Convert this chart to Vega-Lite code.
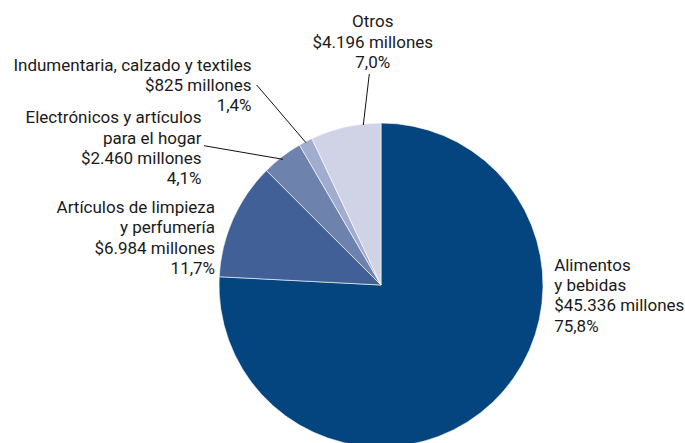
{
  "$schema": "https://vega.github.io/schema/vega-lite/v6.json",
  "width": 608,
  "height": 316,
  "autosize": {"type": "none"},
  "padding": {"left": 77, "top": 127, "right": 0, "bottom": 0},
  "background": "white",
  "view": {"stroke": null},
  "data": {
    "values": [
      {"categoria": "Alimentos y bebidas", "orden": 1, "millones": 45336, "porcentaje": 75.8, "label": "Alimentos\ny bebidas\n$45.336 millones\n75,8%"},
      {"categoria": "Artículos de limpieza y perfumería", "orden": 2, "millones": 6984, "porcentaje": 11.7, "label": "Artículos de limpieza\ny perfumería\n$6.984 millones\n11,7%"},
      {"categoria": "Electrónicos y artículos para el hogar", "orden": 3, "millones": 2460, "porcentaje": 4.1, "label": "Electrónicos y artículos\npara el hogar\n$2.460 millones\n4,1%"},
      {"categoria": "Indumentaria, calzado y textiles", "orden": 4, "millones": 825, "porcentaje": 1.4, "label": "Indumentaria, calzado y textiles\n$825 millones\n1,4%"},
      {"categoria": "Otros", "orden": 5, "millones": 4196, "porcentaje": 7.0, "label": "Otros\n$4.196 millones\n7,0%"}
    ]
  },
  "layer": [
    {
      "mark": {"type": "arc", "outerRadius": 162, "stroke": "white", "strokeWidth": 0.6},
      "encoding": {
        "theta": {"field": "millones", "type": "quantitative", "stack": true},
        "order": {"field": "orden", "type": "quantitative"},
        "color": {
          "field": "categoria",
          "type": "nominal",
          "scale": {
            "domain": ["Alimentos y bebidas", "Artículos de limpieza y perfumería", "Electrónicos y artículos para el hogar", "Indumentaria, calzado y textiles", "Otros"],
            "range": ["#044580", "#416098", "#6E82AE", "#A1ADCE", "#CFD3E5"]
          },
          "legend": null
        }
      }
    },
    {
      "mark": {
        "type": "text",
        "radius": 175,
        "lineBreak": "\n",
        "lineHeight": 20.3,
        "font": "Roboto",
        "fontSize": 17,
        "fill": "#1a1a1a",
        "baseline": "alphabetic",
        "align": {"expr": "datum.orden == 1 ? 'left' : datum.orden == 5 ? 'center' : 'right'"},
        "dx": {"expr": "datum.orden == 1 ? 52.6 : datum.orden == 2 ? -6 : datum.orden == 3 ? -72.6 : datum.orden == 4 ? -48 : 30"},
        "dy": {"expr": "datum.orden == 1 ? -141.2 : datum.orden == 2 ? -1 : datum.orden == 3 ? -23 : datum.orden == 4 ? -59.4 : -87"}
      },
      "encoding": {
        "theta": {"field": "millones", "type": "quantitative", "stack": true},
        "order": {"field": "orden", "type": "quantitative"},
        "detail": {"field": "categoria", "type": "nominal"},
        "text": {"field": "label", "type": "nominal"}
      }
    },
    {
      "transform": [{"filter": "datum.orden >= 3"}],
      "mark": {"type": "rule", "stroke": "#111111", "strokeWidth": 1},
      "encoding": {
        "x": {"value": {"expr": "width/2 + (datum.orden == 3 ? -177 : datum.orden == 4 ? -124.3 : -11.7)"}},
        "y": {"value": {"expr": "height/2 + (datum.orden == 3 ? -139.3 : datum.orden == 4 ? -200 : -211)"}},
        "x2": {"value": {"expr": "width/2 + (datum.orden == 3 ? -98 : datum.orden == 4 ? -75 : -17.7)"}},
        "y2": {"value": {"expr": "height/2 + (datum.orden == 3 ? -125.7 : datum.orden == 4 ? -142.3 : -160)"}}
      }
    }
  ]
}
